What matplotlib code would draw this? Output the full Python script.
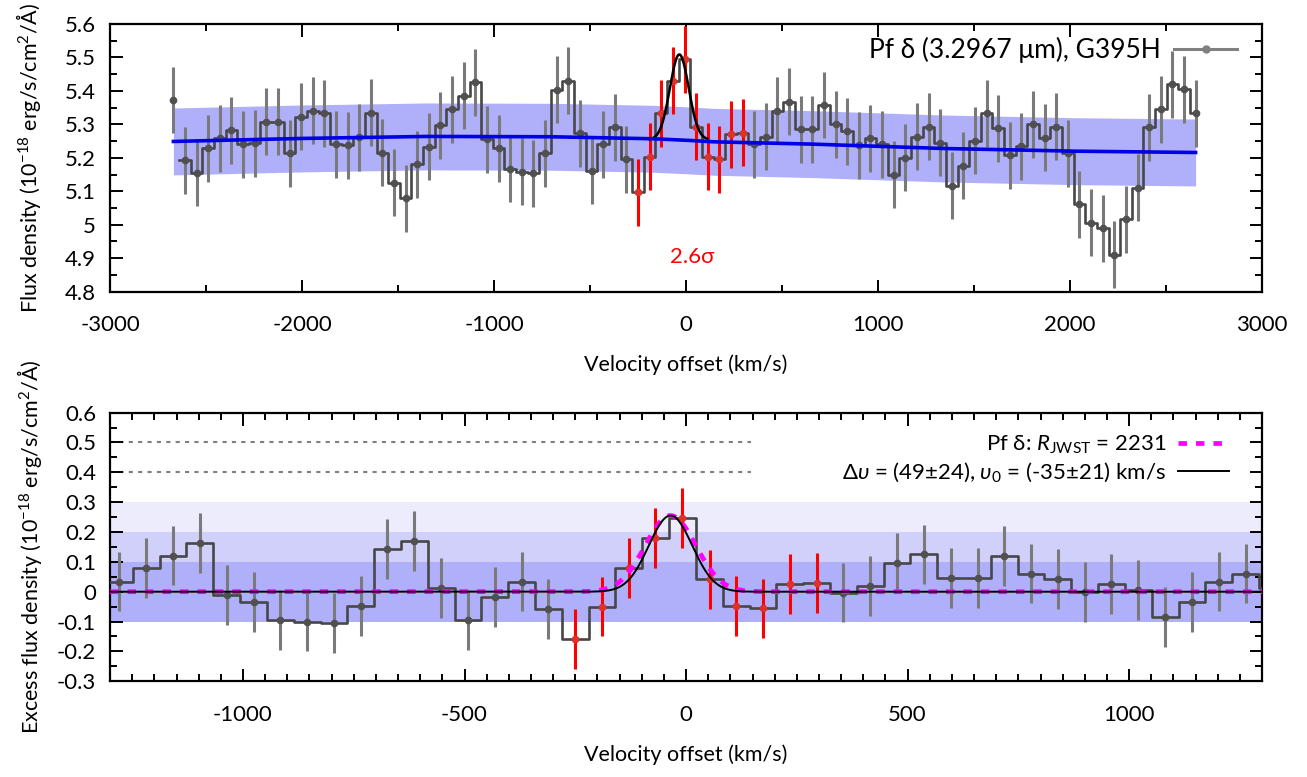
import matplotlib
matplotlib.use('Agg')
import matplotlib.pyplot as plt
import numpy as np
from matplotlib.ticker import MultipleLocator, FuncFormatter
from matplotlib.lines import Line2D

plt.rcParams['font.family'] = ['Lato', 'DejaVu Sans']
plt.rcParams['mathtext.fontset'] = 'custom'
plt.rcParams['mathtext.rm'] = 'Lato'
plt.rcParams['mathtext.it'] = 'Lato:italic'
plt.rcParams['mathtext.bf'] = 'Lato:bold'
plt.rcParams['axes.unicode_minus'] = False

# bin centres (km/s) of the G395H spectrum around Pf delta
velocity = [
    -2670, -2610, -2549, -2489, -2428, -2368, -2307, -2247, -2186, -2126,
    -2065, -2005, -1944, -1884, -1823, -1763, -1702, -1642, -1581, -1521,
    -1460, -1400, -1339, -1279, -1218, -1158, -1097, -1037, -976, -916,
    -855, -795, -734, -674, -613, -553, -492, -432, -371, -311,
    -250, -190, -129, -69, -8, 53, 113, 174, 234, 295,
    355, 416, 476, 537, 597, 658, 718, 779, 839, 900,
    960, 1021, 1081, 1142, 1202, 1263, 1323, 1384, 1444, 1505,
    1565, 1626, 1686, 1747, 1807, 1868, 1928, 1989, 2049, 2110,
    2170, 2231, 2291, 2352, 2412, 2473, 2533, 2594, 2654,
]
flux = [
    5.373, 5.193, 5.156, 5.228, 5.258, 5.283, 5.241, 5.243, 5.308, 5.308,
    5.213, 5.323, 5.341, 5.333, 5.241, 5.238, 5.261, 5.335, 5.215, 5.126,
    5.079, 5.181, 5.233, 5.298, 5.345, 5.385, 5.426, 5.255, 5.228, 5.167,
    5.159, 5.154, 5.213, 5.403, 5.430, 5.273, 5.162, 5.241, 5.291, 5.196,
    5.097, 5.203, 5.333, 5.430, 5.494, 5.293, 5.203, 5.196, 5.271, 5.275,
    5.241, 5.263, 5.341, 5.368, 5.286, 5.286, 5.358, 5.300, 5.280, 5.238,
    5.258, 5.241, 5.149, 5.200, 5.263, 5.293, 5.245, 5.117, 5.177, 5.251,
    5.333, 5.288, 5.208, 5.235, 5.300, 5.260, 5.293, 5.213, 5.061, 5.006,
    4.989, 4.910, 5.016, 5.111, 5.291, 5.345, 5.420, 5.405, 5.333,
]
flux_err = 0.10

# continuum model and its uncertainty
cont_v = [-2670, -2000, -1350, -700, -170, 20, 140, 660, 1340, 2020, 2654]
cont_f = [5.249, 5.258, 5.264, 5.263, 5.257, 5.252, 5.248, 5.241, 5.228, 5.220, 5.216]
cont_err = 0.10

# continuum-subtracted flux, bins 22..66
excess_slice = slice(22, 67)
excess = [
    -0.030, 0.034, 0.080, 0.121, 0.162, -0.011, -0.034, -0.095, -0.100, -0.104,
    -0.048, 0.142, 0.170, 0.013, -0.095, -0.017, 0.034, -0.059, -0.159, -0.050,
    0.080, 0.179, 0.246, 0.041, -0.047, -0.056, 0.026, 0.028, -0.003, 0.019,
    0.097, 0.125, 0.045, 0.045, 0.119, 0.061, 0.042, 0.000, 0.026, 0.006,
    -0.084, -0.034, 0.034, 0.061, 0.012,
]
excess_err = 0.10

# bins used in the line fit (drawn in red)
fit_bins = slice(40, 50)

# Gaussian fit and instrumental profile
amp = 0.255
v0 = -35.0
dv = 49.0
R_jwst = 2231
line_base = 5.254
sigma_levels = [0.1, 0.2, 0.3]

C_KMS = 299792.458
sigma_inst = C_KMS / R_jwst / 2.3548

GREY_BAR = '#7a7a7a'
GREY_STEP = '#474747'
GREY_PT = '#505050'
TICK_FS = 16
LABEL_FS = 15.5


def gauss(v, a, mu, s):
    return a * np.exp(-0.5 * ((v - mu) / s) ** 2)


def step_path(v, y):
    """Histogram steps starting half a bin right of the first point."""
    v = np.asarray(v, float)
    y = np.asarray(y, float)
    mids = 0.5 * (v[:-1] + v[1:])
    xs = np.r_[mids, v[-1]]
    ys = np.r_[y[1:], y[-1]]
    return xs, ys


def fmt(val, pos):
    s = f'{val:.1f}' if abs(val) < 10 else f'{val:.0f}'
    s = s.rstrip('0').rstrip('.') if '.' in s else s
    return '0' if s in ('-0', '0') else s


def style_axes(ax):
    for sp in ax.spines.values():
        sp.set_linewidth(1.6)
    ax.tick_params(which='both', direction='in', top=True, right=True,
                   width=1.4, labelsize=TICK_FS)
    ax.tick_params(which='major', length=9, pad=10)
    ax.tick_params(which='minor', length=5)
    ax.tick_params(axis='x', which='major', pad=17)
    ax.yaxis.set_major_formatter(FuncFormatter(fmt))
    ax.xaxis.set_major_formatter(FuncFormatter(fmt))


fig = plt.figure(figsize=(13.07, 7.77), dpi=100)
ax1 = fig.add_axes([0.0842, 0.6246, 0.8814, 0.3445])
ax2 = fig.add_axes([0.0842, 0.1232, 0.8814, 0.3458])

v = np.array(velocity, float)
f = np.array(flux, float)

# ---- top: observed spectrum with continuum ----
cv = np.array(cont_v, float)
cf = np.array(cont_f, float)
ax1.fill_between(cv, cf - cont_err, cf + cont_err, color='#b0b0fa', lw=0, zorder=1)

xs, ys = step_path(v, f)
ax1.step(xs, ys, where='post', color=GREY_STEP, lw=1.9, zorder=3)

grey = np.ones(len(v), bool)
grey[fit_bins] = False
ax1.errorbar(v[grey], f[grey], yerr=flux_err, fmt='o', ms=4.5, color=GREY_PT,
             ecolor=GREY_BAR, elinewidth=2.2, capsize=0, zorder=4)
ax1.errorbar(v[fit_bins], f[fit_bins], yerr=flux_err, fmt='o', ms=4.5, color='#e0302a',
             ecolor='red', elinewidth=2.2, capsize=0, zorder=4)

vg = np.linspace(-190, 110, 300)
ax1.plot(vg, line_base + gauss(vg, amp, v0, dv), color='black', lw=1.8, zorder=5)
ax1.plot(cv, cf, color='#0000e6', lw=2.6, zorder=6)

ax1.text(30, 4.905, '2.6σ', color='red', fontsize=16, ha='center', va='center')

ax1.set_xlim(-3000, 3000)
ax1.set_ylim(4.8, 5.6)
ax1.xaxis.set_major_locator(MultipleLocator(1000))
ax1.xaxis.set_minor_locator(MultipleLocator(500))
ax1.yaxis.set_major_locator(MultipleLocator(0.1))
ax1.yaxis.set_minor_locator(MultipleLocator(0.05))
style_axes(ax1)
ax1.set_xlabel('Velocity offset (km/s)', fontsize=LABEL_FS, labelpad=14)
ax1.set_ylabel('Flux density (10$^{-18}$ erg/s/cm$^2$/Å)', fontsize=LABEL_FS,
               labelpad=16)

ax1.legend([Line2D([0], [0], color='#808080', lw=2.2, marker='o', ms=5)],
           ['Pf δ (3.2967 μm), G395H'], loc='upper right', frameon=False,
           markerfirst=False, fontsize=19, handlelength=2.4, handletextpad=0.5,
           borderaxespad=0.3, bbox_to_anchor=(0.99, 1.0), borderpad=0.2)

# ---- bottom: continuum-subtracted spectrum ----
ve = v[excess_slice]
e = np.array(excess, float)

ax2.axhspan(sigma_levels[1], sigma_levels[2], color='#ececfc', lw=0, zorder=0)
ax2.axhspan(sigma_levels[0], sigma_levels[1], color='#d0d0fa', lw=0, zorder=0)
ax2.axhspan(-sigma_levels[0], sigma_levels[0], color='#b0b0fa', lw=0, zorder=0)

for lev in (0.5, 0.4):
    ax2.plot([-1300, 147], [lev, lev], color='#808080', lw=1.5,
             ls=(0, (2, 2.5)), zorder=1)

xs, ys = step_path(ve, e)
ax2.step(xs, ys, where='post', color=GREY_STEP, lw=1.9, zorder=3)

grey = np.ones(len(ve), bool)
fb = slice(fit_bins.start - excess_slice.start, fit_bins.stop - excess_slice.start)
grey[fb] = False
ax2.errorbar(ve[grey], e[grey], yerr=excess_err, fmt='o', ms=4.5, color=GREY_PT,
             ecolor=GREY_BAR, elinewidth=2.2, capsize=0, zorder=4)
ax2.errorbar(ve[fb], e[fb], yerr=excess_err, fmt='o', ms=4.5, color='#e0302a',
             ecolor='red', elinewidth=2.2, capsize=0, zorder=4)

vm = np.linspace(-1300, 1300, 2000)
inst, = ax2.plot(vm, gauss(vm, amp, v0, sigma_inst), color='magenta', lw=3.4,
                 ls=(0, (1.8, 1.9)), zorder=5)
fit, = ax2.plot(vm, gauss(vm, amp, v0, dv), color='black', lw=1.4, zorder=6)

ax2.set_xlim(-1300, 1300)
ax2.set_ylim(-0.3, 0.6)
ax2.xaxis.set_major_locator(MultipleLocator(500))
ax2.xaxis.set_minor_locator(MultipleLocator(50))
ax2.yaxis.set_major_locator(MultipleLocator(0.1))
ax2.yaxis.set_minor_locator(MultipleLocator(0.05))
style_axes(ax2)
ax2.set_xlabel('Velocity offset (km/s)', fontsize=LABEL_FS, labelpad=14)
ax2.set_ylabel('Excess flux density (10$^{-18}$ erg/s/cm$^2$/Å)', fontsize=LABEL_FS,
               labelpad=9)

ax2.legend([inst, fit],
           ['Pf δ: $R_{\\rm JWST}$ = %d' % R_jwst,
            '$\\Delta\\upsilon$ = (49±24), $\\upsilon_0$ = (-35±21) km/s'],
           loc='upper right', frameon=False, markerfirst=False, fontsize=16,
           handlelength=2.3, handletextpad=0.55, labelspacing=0.2,
           bbox_to_anchor=(0.99, 1.0), borderpad=0.45)

fig.savefig('out.png', dpi=100)
